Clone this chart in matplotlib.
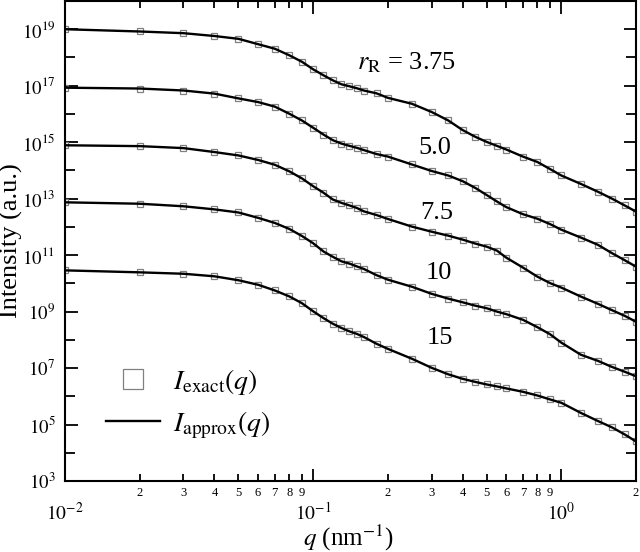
import numpy as np
import matplotlib
matplotlib.use("Agg")
import matplotlib.pyplot as plt

plt.rcParams['font.family'] = ['Liberation Serif', 'DejaVu Serif']
plt.rcParams['mathtext.fontset'] = 'stix'

# scattering vector q (nm^-1)
q = [0.01, 0.02, 0.03, 0.04, 0.05, 0.06, 0.07, 0.08, 0.09, 0.10,
     0.11, 0.12, 0.13, 0.14, 0.15, 0.16, 0.18, 0.20, 0.25, 0.30,
     0.35, 0.40, 0.45, 0.50, 0.55, 0.60, 0.70, 0.80, 0.90, 1.0,
     1.2, 1.4, 1.6, 1.8, 2.0]

# log10 of intensity (a.u.), one list per r_R
logI_375 = [19.00, 18.92, 18.86, 18.76, 18.66, 18.47, 18.31, 18.08, 17.85, 17.58,
            17.37, 17.19, 17.05, 16.98, 16.91, 16.83, 16.73, 16.57, 16.36, 16.07,
            15.77, 15.43, 15.19, 15.01, 14.87, 14.74, 14.49, 14.30, 14.05, 13.82,
            13.52, 13.25, 13.00, 12.76, 12.54]
logI_50 = [16.93, 16.90, 16.83, 16.72, 16.55, 16.42, 16.26, 16.01, 15.77, 15.51,
           15.27, 15.07, 14.95, 14.87, 14.80, 14.72, 14.58, 14.49, 14.21, 13.98,
           13.82, 13.62, 13.38, 13.13, 12.90, 12.70, 12.45, 12.29, 12.10, 11.90,
           11.62, 11.37, 11.07, 10.82, 10.59]
logI_75 = [14.89, 14.86, 14.79, 14.65, 14.53, 14.37, 14.20, 13.97, 13.72, 13.44,
           13.21, 12.97, 12.85, 12.76, 12.67, 12.55, 12.42, 12.28, 12.01, 11.83,
           11.69, 11.55, 11.41, 11.30, 11.16, 10.91, 10.56, 10.24, 10.01, 9.85,
           9.53, 9.28, 9.05, 8.85, 8.64]
logI_10 = [12.87, 12.82, 12.73, 12.62, 12.51, 12.32, 12.14, 11.93, 11.68, 11.42,
           11.13, 10.94, 10.78, 10.70, 10.60, 10.51, 10.29, 10.13, 9.88, 9.63,
           9.46, 9.33, 9.21, 9.12, 9.00, 8.91, 8.71, 8.45, 8.20, 7.90,
           7.47, 7.26, 7.04, 6.87, 6.71]
logI_15 = [10.46, 10.39, 10.34, 10.25, 10.11, 9.95, 9.75, 9.54, 9.30, 9.01,
           8.77, 8.57, 8.42, 8.30, 8.21, 8.10, 7.86, 7.68, 7.33, 7.01,
           6.78, 6.62, 6.51, 6.42, 6.35, 6.28, 6.16, 6.03, 5.89, 5.77,
           5.41, 5.13, 4.90, 4.65, 4.40]

curves = [logI_375, logI_50, logI_75, logI_10, logI_15]
curve_labels = [r'$r_{\mathrm{R}}$ = 3.75', '5.0', '7.5', '10', '15']
label_pos = [(0.2385, 17.83), (0.309, 14.80), (0.315, 12.50), (0.321, 10.38), (0.324, 8.08)]

fig = plt.figure(figsize=(6.4, 5.52), dpi=100)
ax = fig.add_axes([0.1016, 0.1286, 0.8922, 0.8696])

for i, logI in enumerate(curves):
    I = 10.0 ** np.array(logI)
    ax.plot(q, I, 's', mfc='none', mec='0.5', ms=4.8, mew=0.9,
            label=r'$I_{\mathrm{exact}}(q)$' if i == 0 else None, zorder=2)
    ax.plot(q, I, '-', color='k', lw=1.7,
            label=r'$I_{\mathrm{approx}}(q)$' if i == 0 else None, zorder=3)

for txt, (xq, ly) in zip(curve_labels, label_pos):
    ax.text(xq, 10.0 ** ly, txt, fontsize=19, ha='center', va='center')

ax.set_xscale('log')
ax.set_yscale('log')
ax.set_xlim(0.01, 2)
ax.set_ylim(1e3, 1e20)

ymaj = [10.0 ** k for k in range(3, 20, 2)]
ax.set_yticks(ymaj)
ax.set_yticklabels([r'$10^{%d}$' % k for k in range(3, 20, 2)], fontsize=13.5)
ax.set_yticks([10.0 ** k for k in range(4, 21, 2)], minor=True)
ax.set_yticklabels([], minor=True)

ax.set_xticks([0.01, 0.1, 1.0])
ax.set_xticklabels([r'$10^{-2}$', r'$10^{-1}$', r'$10^{0}$'], fontsize=14)
xmin = [m * 0.01 for m in range(2, 10)] + [m * 0.1 for m in range(2, 10)] + [2.0]
ax.set_xticks(xmin, minor=True)
ax.set_xticklabels([str(m) for m in range(2, 10)] * 2 + ['2'], minor=True, fontsize=9)

ax.tick_params(which='both', direction='in', top=True, right=True, width=1.3)
ax.tick_params(axis='x', which='major', length=9, pad=15)
ax.tick_params(axis='x', which='minor', length=5, pad=4)
ax.tick_params(axis='y', which='major', length=9, pad=7)
ax.tick_params(axis='y', which='minor', length=7)
for s in ax.spines.values():
    s.set_linewidth(1.5)

ax.set_xlabel(r'$q$ (nm$^{-1}$)', fontsize=18)
ax.xaxis.set_label_coords(0.496, -0.088)
ax.set_ylabel('Intensity (a.u.)', fontsize=19)
ax.yaxis.set_label_coords(-0.073, 0.5)

ax.legend(loc='upper left', bbox_to_anchor=(0.072, 0.238), frameon=False,
          fontsize=20, markerscale=3, handlelength=1.95, handletextpad=0.45,
          borderaxespad=0, borderpad=0, labelspacing=0.45)

fig.savefig('out.png', dpi=100)
